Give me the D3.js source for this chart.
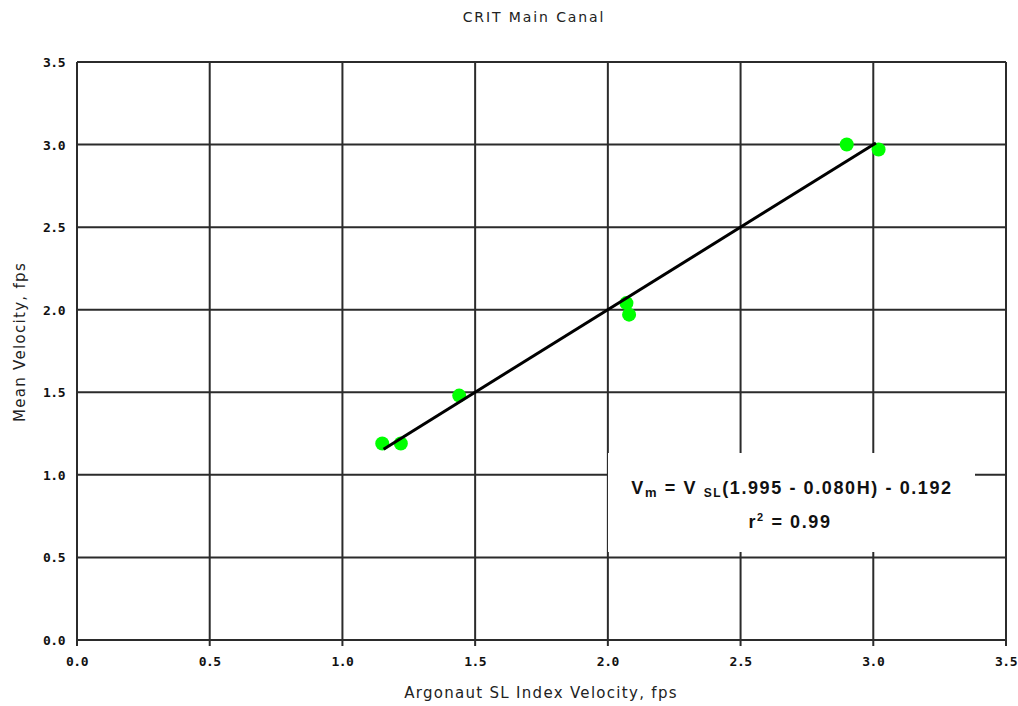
<!DOCTYPE html>
<html><head><meta charset="utf-8">
<script src="https://cdn.jsdelivr.net/npm/d3@7"></script>
<style>body{margin:0;background:#fff}svg{display:block}</style>
</head><body>
<svg id="c" width="1018" height="706"></svg>
<script>
const title = "CRIT Main Canal";
const xLabel = "Argonaut SL Index Velocity, fps";
const yLabel = "Mean Velocity, fps";
const xTicks = [0, 0.5, 1.0, 1.5, 2.0, 2.5, 3.0, 3.5];
const yTicks = [0, 0.5, 1.0, 1.5, 2.0, 2.5, 3.0, 3.5];
const obsX = [1.15, 1.22, 1.44, 2.07, 2.08, 2.90, 3.02];
const obsY = [1.19, 1.19, 1.48, 2.04, 1.97, 3.00, 2.97];
const fitX = [1.155, 3.01];
const fitY = [1.155, 3.01];

const svg = d3.select("#c");
const L = 77, R = 1006, T = 62, B = 640;
const x = d3.scaleLinear().domain([0, 3.5]).range([L, R]);
const y = d3.scaleLinear().domain([0, 3.5]).range([B, T]);
const gridCol = "#2b2b2b";

// grid
svg.append("g").selectAll("line.v").data(xTicks).join("line")
  .attr("x1", d => x(d)).attr("x2", d => x(d)).attr("y1", T).attr("y2", B + 6)
  .attr("stroke", gridCol).attr("stroke-width", 2);
svg.append("g").selectAll("line.h").data(yTicks).join("line")
  .attr("x1", L).attr("x2", R).attr("y1", d => y(d)).attr("y2", d => y(d))
  .attr("stroke", gridCol).attr("stroke-width", 2);

// tick labels
svg.append("g").selectAll("text").data(xTicks).join("text")
  .attr("x", d => x(d)).attr("y", 666).attr("text-anchor", "middle")
  .attr("font-family", "DejaVu Sans Mono, monospace").attr("font-weight", "bold")
  .attr("font-size", 13).attr("letter-spacing", -0.5).attr("fill", "#111").text(d => d.toFixed(1));
svg.append("g").selectAll("text").data(yTicks).join("text")
  .attr("x", 65).attr("y", d => y(d) + 5).attr("text-anchor", "end")
  .attr("font-family", "DejaVu Sans Mono, monospace").attr("font-weight", "bold")
  .attr("font-size", 13).attr("letter-spacing", -0.5).attr("fill", "#111").text(d => d.toFixed(1));

// annotation box
svg.append("rect").attr("x", 608).attr("y", 453).attr("width", 367).attr("height", 99).attr("fill", "#fff");
const eq = svg.append("text").attr("x", 792).attr("y", 494).attr("text-anchor", "middle")
  .attr("font-family", "Liberation Sans, Arial, sans-serif").attr("font-weight", "bold")
  .attr("font-size", 18).attr("letter-spacing", 1.6).attr("fill", "#111");
eq.append("tspan").text("V");
eq.append("tspan").attr("font-size", 13).attr("dy", 3).text("m");
eq.append("tspan").attr("dy", -3).text(" = V ");
eq.append("tspan").attr("font-size", 12).attr("dy", 3).text("SL");
eq.append("tspan").attr("dy", -3).text("(1.995 - 0.080H) - 0.192");
const r2 = svg.append("text").attr("x", 790).attr("y", 528).attr("text-anchor", "middle")
  .attr("font-family", "Liberation Sans, Arial, sans-serif").attr("font-weight", "bold")
  .attr("font-size", 18).attr("letter-spacing", 1.6).attr("fill", "#111");
r2.append("tspan").text("r");
r2.append("tspan").attr("font-size", 11).attr("dy", -7).text("2");
r2.append("tspan").attr("dy", 7).text(" = 0.99");

// points
svg.append("g").selectAll("circle").data(obsX).join("circle")
  .attr("cx", (d, i) => x(d)).attr("cy", (d, i) => y(obsY[i])).attr("r", 7)
  .attr("fill", "#00ff00");

// fit line
svg.append("path").datum(fitX.map((d, i) => [d, fitY[i]]))
  .attr("d", d3.line().x(d => x(d[0])).y(d => y(d[1])))
  .attr("stroke", "#000").attr("stroke-width", 3).attr("fill", "none");

// titles
svg.append("text").attr("x", 534).attr("y", 22).attr("text-anchor", "middle")
  .attr("font-family", "DejaVu Sans, sans-serif").attr("font-size", 14)
  .attr("letter-spacing", 1.9).attr("fill", "#222").text(title);
svg.append("text").attr("x", 541).attr("y", 698).attr("text-anchor", "middle")
  .attr("font-family", "DejaVu Sans, sans-serif").attr("font-size", 15)
  .attr("letter-spacing", 1.3).attr("fill", "#222").text(xLabel);
svg.append("text").attr("transform", "translate(25,342) rotate(-90)")
  .attr("text-anchor", "middle")
  .attr("font-family", "DejaVu Sans, sans-serif").attr("font-size", 15)
  .attr("letter-spacing", 1.3).attr("fill", "#222").text(yLabel);
</script>
</body></html>
